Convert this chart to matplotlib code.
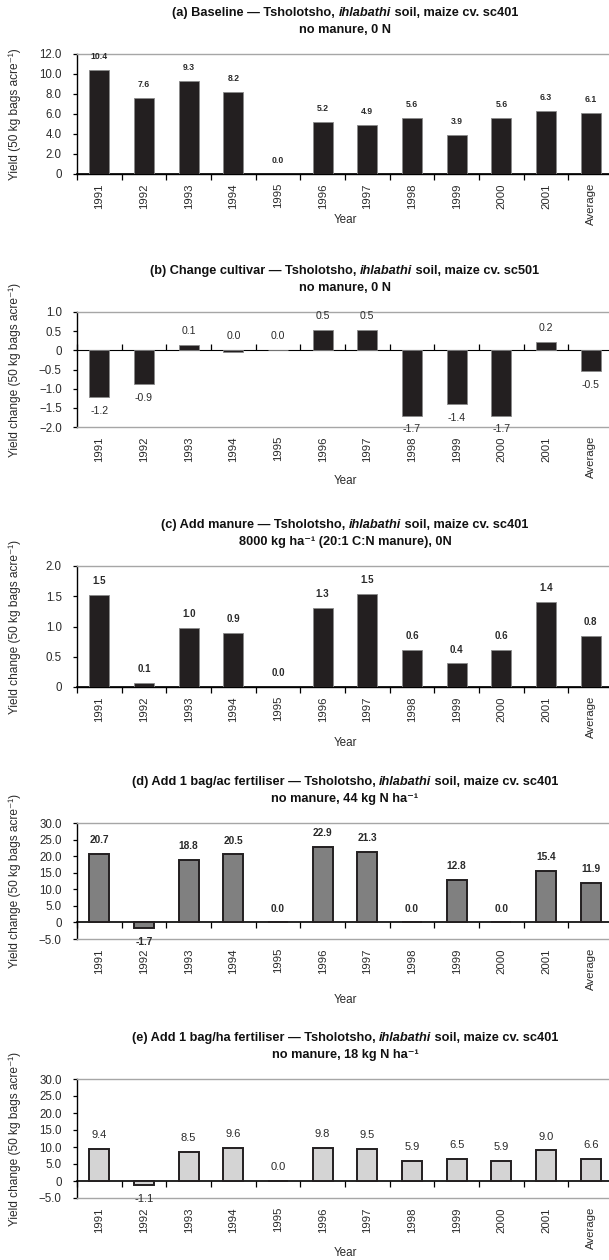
import matplotlib
matplotlib.use('Agg')
import matplotlib.pyplot as plt
import numpy as np

plt.rcParams['font.family'] = ['Liberation Sans', 'DejaVu Sans']

years = ['1991', '1992', '1993', '1994', '1995', '1996', '1997',
         '1998', '1999', '2000', '2001', 'Average']

baseline = [10.4, 7.6, 9.3, 8.2, 0.0, 5.2, 4.9, 5.6, 3.9, 5.6, 6.3, 6.1]
cultivar = [-1.22, -0.89, 0.13, -0.04, 0.0, 0.54, 0.54, -1.70, -1.41, -1.70, 0.23, -0.53]
manure = [1.52, 0.07, 0.97, 0.89, 0.0, 1.30, 1.54, 0.61, 0.39, 0.61, 1.41, 0.84]
fert_ac = [20.7, -1.7, 18.8, 20.5, 0.0, 22.9, 21.3, 0.0, 12.8, 0.0, 15.4, 11.9]
fert_ha = [9.4, -1.1, 8.5, 9.6, 0.0, 9.8, 9.5, 5.9, 6.5, 5.9, 9.0, 6.6]

titles = [
    [('(a) Baseline \u2014 Tsholotsho, ', 'normal'), ('ihlabathi', 'italic'),
     (' soil, maize cv. sc401', 'normal')],
    [('(b) Change cultivar \u2014 Tsholotsho, ', 'normal'), ('ihlabathi', 'italic'),
     (' soil, maize cv. sc501', 'normal')],
    [('(c) Add manure \u2014 Tsholotsho, ', 'normal'), ('ihlabathi', 'italic'),
     (' soil, maize cv. sc401', 'normal')],
    [('(d) Add 1 bag/ac fertiliser \u2014 Tsholotsho, ', 'normal'), ('ihlabathi', 'italic'),
     (' soil, maize cv. sc401', 'normal')],
    [('(e) Add 1 bag/ha fertiliser \u2014 Tsholotsho, ', 'normal'), ('ihlabathi', 'italic'),
     (' soil, maize cv. sc401', 'normal')],
]
subtitles = ['no manure, 0 N',
             'no manure, 0 N',
             '8000 kg ha\u207b\u00b9 (20:1 C:N manure), 0N',
             'no manure, 44 kg N ha\u207b\u00b9',
             'no manure, 18 kg N ha\u207b\u00b9']
ylabels = ['Yield (50 kg bags acre\u207b\u00b9)'] + ['Yield change (50 kg bags acre\u207b\u00b9)'] * 4

series = [baseline, cultivar, manure, fert_ac, fert_ha]
ylims = [(0, 12), (-2, 1), (0, 2), (-5, 30), (-5, 30)]
ysteps = [2, 0.5, 0.5, 5, 5]
fills = ['#231f20', '#231f20', '#231f20', '#808080', '#d4d4d4']
edges = ['#8a8a8a', '#8a8a8a', '#8a8a8a', '#231f20', '#231f20']
edge_w = [0.6, 0.6, 0.6, 1.4, 1.4]
lab_size = [6.2, 7.6, 7.0, 7.3, 8.0]
lab_weight = ['bold', 'normal', 'bold', 'bold', 'normal']

# pixel layout of each plot area (top, bottom) and the "Year" label
W, H = 609, 1260
tops = [54, 312, 566, 823, 1079]
bots = [174, 427, 687, 939, 1198]
year_y = [220, 481, 743, 1000, 1253]
left_px, right_px = 77, 613

fig = plt.figure(figsize=(W / 100, H / 100), dpi=100)
renderer = fig.canvas.get_renderer()
txt = '#2a2a2a'
grey = '#a6a6a6'


def centred_pieces(pieces, xc, y, size):
    objs = []
    for s, style in pieces:
        objs.append(fig.text(0, y, s, fontsize=size, fontweight='bold', fontstyle=style,
                             color='#111111', ha='left', va='center'))
    widths = [o.get_window_extent(renderer).width for o in objs]
    x = xc * W - sum(widths) / 2
    for o, w in zip(objs, widths):
        o.set_x(x / W)
        x += w


for k in range(5):
    vals = series[k]
    y0, y1 = ylims[k]
    ax = fig.add_axes([left_px / W, 1 - bots[k] / H,
                       (right_px - left_px) / W, (bots[k] - tops[k]) / H])
    x = np.arange(len(years))
    ax.bar(x, vals, width=0.45, color=fills[k], edgecolor=edges[k],
           linewidth=edge_w[k], zorder=3)
    ax.set_xlim(-0.5, len(years) - 0.5)
    ax.set_ylim(y0, y1)
    ax.set_yticks(np.arange(y0, y1 + ysteps[k] / 2, ysteps[k]))
    ax.yaxis.set_major_formatter(plt.FuncFormatter(
        lambda v, p: '0' if abs(v) < 1e-9 else f'{v:.1f}'.replace('-', '\u2212')))
    ax.tick_params(axis='y', direction='out', length=3, width=0.9, color='black',
                   labelsize=8.3, labelcolor=txt, pad=8)
    ax.set_xticks(x)
    ax.set_xticklabels(years, rotation=90)
    ax.tick_params(axis='x', length=0, pad=6.5, labelsize=8.2, labelcolor=txt)

    ax.spines['right'].set_visible(False)
    ax.spines['top'].set_color(grey)
    ax.spines['top'].set_linewidth(1.0)
    ax.spines['left'].set_color('black')
    ax.spines['left'].set_linewidth(1.0)
    ax.spines['bottom'].set_color('black' if y0 == 0 else grey)
    ax.spines['bottom'].set_linewidth(1.0)

    # zero line with category divider ticks
    frac = (0 - y0) / (y1 - y0)
    sec = ax.secondary_xaxis(frac)
    sec.set_xticks(np.arange(-0.5, len(years), 1.0))
    sec.set_xticklabels([])
    sec.tick_params(direction='out', length=4, width=0.9, color='black')
    sec.spines['bottom'].set_color('black')
    sec.spines['bottom'].set_linewidth(1.2)

    for i, v in enumerate(vals):
        s = f'{v:.1f}'
        if s == '-0.0':
            s = '0.0'
        if s.startswith('-'):
            ax.annotate(s, (i, v), xytext=(0, -10), textcoords='offset points',
                        ha='center', va='center', fontsize=lab_size[k],
                        fontweight=lab_weight[k], color=txt, annotation_clip=False)
        else:
            ax.annotate(s, (i, max(v, 0)), xytext=(0, 10), textcoords='offset points',
                        ha='center', va='center', fontsize=lab_size[k],
                        fontweight=lab_weight[k], color=txt, annotation_clip=False)

    ax.set_ylabel(ylabels[k], fontsize=8.6, color=txt, va='center')
    ax.yaxis.set_label_coords((15 - left_px) / (right_px - left_px), 0.5)

    xc = (left_px + right_px) / 2 / W
    fig.text(xc, 1 - year_y[k] / H, 'Year', fontsize=8.4, color=txt, ha='center', va='center')
    centred_pieces(titles[k], xc, 1 - (tops[k] - 41) / H, 9.2)
    fig.text(xc, 1 - (tops[k] - 24) / H, subtitles[k], fontsize=9.2, fontweight='bold',
             color='#111111', ha='center', va='center')

fig.savefig('out.png', dpi=100)
